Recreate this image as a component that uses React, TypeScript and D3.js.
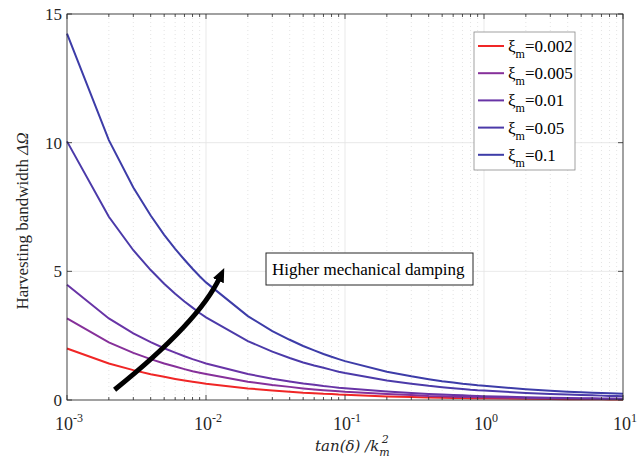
import React from "react";
import * as d3 from "d3";

const xValues = [
  0.001, 0.002, 0.003, 0.004, 0.005, 0.006, 0.007, 0.008, 0.009,
  0.01, 0.02, 0.03, 0.04, 0.05, 0.06, 0.07, 0.08, 0.09,
  0.1, 0.2, 0.3, 0.4, 0.5, 0.6, 0.7, 0.8, 0.9,
  1, 2, 3, 4, 5, 6, 7, 8, 9, 10,
];

const xi0002 = [
  2.0, 1.42, 1.16, 1.0, 0.9, 0.82, 0.76, 0.71, 0.67,
  0.63, 0.45, 0.37, 0.32, 0.28, 0.26, 0.24, 0.23, 0.21,
  0.2, 0.14, 0.12, 0.1, 0.09, 0.08, 0.08, 0.07, 0.07,
  0.07, 0.05, 0.04, 0.03, 0.03, 0.03, 0.03, 0.02, 0.02, 0.02,
];
const xi0005 = [
  3.17, 2.24, 1.83, 1.59, 1.42, 1.3, 1.2, 1.12, 1.06,
  1.01, 0.71, 0.58, 0.51, 0.45, 0.41, 0.38, 0.36, 0.34,
  0.32, 0.23, 0.19, 0.16, 0.15, 0.13, 0.12, 0.12, 0.11,
  0.11, 0.08, 0.06, 0.06, 0.05, 0.05, 0.04, 0.04, 0.04, 0.04,
];
const xi001 = [
  4.48, 3.17, 2.59, 2.25, 2.01, 1.84, 1.7, 1.59, 1.5,
  1.42, 1.01, 0.83, 0.72, 0.64, 0.59, 0.54, 0.51, 0.48,
  0.46, 0.33, 0.27, 0.23, 0.21, 0.19, 0.18, 0.17, 0.16,
  0.15, 0.11, 0.09, 0.08, 0.07, 0.07, 0.06, 0.06, 0.06, 0.05,
];
const xi005 = [
  10.05, 7.12, 5.82, 5.05, 4.52, 4.13, 3.83, 3.59, 3.38,
  3.21, 2.29, 1.88, 1.63, 1.46, 1.34, 1.25, 1.17, 1.1,
  1.05, 0.76, 0.63, 0.55, 0.5, 0.46, 0.43, 0.4, 0.38,
  0.37, 0.27, 0.23, 0.21, 0.19, 0.18, 0.17, 0.16, 0.16, 0.15,
];
const xi01 = [
  14.24, 10.1, 8.26, 7.17, 6.42, 5.87, 5.45, 5.1, 4.81,
  4.57, 3.26, 2.68, 2.34, 2.1, 1.93, 1.79, 1.68, 1.59,
  1.51, 1.1, 0.92, 0.81, 0.73, 0.68, 0.63, 0.6, 0.57,
  0.55, 0.42, 0.36, 0.32, 0.3, 0.28, 0.27, 0.26, 0.25, 0.24,
];

const seriesLabels = ["0.002", "0.005", "0.01", "0.05", "0.1"];
const seriesValues = [xi0002, xi0005, xi001, xi005, xi01];
const seriesColors = ["#f02626", "#86309a", "#6834a6", "#4b3aa9", "#3d3ca8"];

const xTickExps = [-3, -2, -1, 0, 1];
const yTicks = [0, 5, 10, 15];

const W = 643;
const H = 466;
const L = 67, R = 623, T = 14, B = 400;
const FONT = "'Liberation Serif', 'Times New Roman', serif";

export default function App() {
  const x = d3.scaleLog().domain([1e-3, 10]).range([L, R]);
  const y = d3.scaleLinear().domain([0, 15]).range([B, T]);
  const line = d3
    .line<number>()
    .x((_, i) => x(xValues[i]))
    .y((d) => y(d));

  const minor: number[] = [];
  for (let e = -3; e < 1; e++) {
    for (let k = 2; k <= 9; k++) minor.push(k * Math.pow(10, e));
  }
  const axisColor = "#262626";
  const gridColor = "#e3e3e3";

  const arrowStart = [x(0.0022), y(0.4)];
  const arrowEnd = [220, 277];
  const ctrl = [199, 322];

  return (
    <svg
      width={W}
      height={H}
      style={{ position: "absolute", left: 0, top: 0, background: "#fff" }}
    >
      <defs>
        <marker
          id="ah"
          markerUnits="userSpaceOnUse"
          markerWidth="16"
          markerHeight="16"
          refX="4"
          refY="6"
          orient="auto"
        >
          <path d="M0,0 L14,6 L0,12 Z" fill="#000" />
        </marker>
      </defs>
      <rect x={0} y={0} width={W} height={H} fill="#fff" />
      {/* grid */}
      {minor.map((m, i) => (
        <line
          key={"mg" + i}
          x1={x(m)}
          x2={x(m)}
          y1={T}
          y2={B}
          stroke="#d8d8d8"
          strokeWidth={0.7}
          strokeDasharray="1,3"
        />
      ))}
      {xTickExps.map((e) => (
        <line
          key={"xg" + e}
          x1={x(Math.pow(10, e))}
          x2={x(Math.pow(10, e))}
          y1={T}
          y2={B}
          stroke={gridColor}
          strokeWidth={0.8}
        />
      ))}
      {yTicks.map((t) => (
        <line
          key={"yg" + t}
          x1={L}
          x2={R}
          y1={y(t)}
          y2={y(t)}
          stroke={gridColor}
          strokeWidth={0.8}
        />
      ))}
      {/* series */}
      {seriesValues.map((vals, i) => (
        <path
          key={"s" + i}
          d={line(vals) || ""}
          fill="none"
          stroke={seriesColors[i]}
          strokeWidth={2}
        />
      ))}
      {/* axes box */}
      <rect x={L} y={T} width={R - L} height={B - T} fill="none" stroke={axisColor} strokeWidth={0.8} />
      {/* x ticks */}
      {xTickExps.map((e) => (
        <g key={"xt" + e}>
          <line x1={x(Math.pow(10, e))} x2={x(Math.pow(10, e))} y1={B} y2={B - 5} stroke={axisColor} strokeWidth={0.8} />
          <line x1={x(Math.pow(10, e))} x2={x(Math.pow(10, e))} y1={T} y2={T + 5} stroke={axisColor} strokeWidth={0.8} />
          <text
            x={x(Math.pow(10, e)) + 2}
            y={430}
            textAnchor="middle"
            fontFamily={FONT}
            fontSize={18}
            fill="#262626"
          >
            10
            <tspan dy={-8} fontSize={12}>
              {e < 0 ? "-" + Math.abs(e) : String(e)}
            </tspan>
          </text>
        </g>
      ))}
      {minor.map((m, i) => (
        <g key={"mt" + i}>
          <line x1={x(m)} x2={x(m)} y1={B} y2={B - 3} stroke={axisColor} strokeWidth={0.8} />
          <line x1={x(m)} x2={x(m)} y1={T} y2={T + 3} stroke={axisColor} strokeWidth={0.8} />
        </g>
      ))}
      {/* y ticks */}
      {yTicks.map((t) => (
        <g key={"yt" + t}>
          <line x1={L} x2={L + 5} y1={y(t)} y2={y(t)} stroke={axisColor} strokeWidth={0.8} />
          <line x1={R} x2={R - 5} y1={y(t)} y2={y(t)} stroke={axisColor} strokeWidth={0.8} />
          <text
            x={L - 5}
            y={y(t) + 6}
            textAnchor="end"
            fontFamily={FONT}
            fontSize={17}
            fill="#262626"
          >
            {t}
          </text>
        </g>
      ))}
      {/* axis labels */}
      <text
        transform={`translate(28,${(T + B) / 2 + 14}) rotate(-90)`}
        textAnchor="middle"
        fontFamily={FONT}
        fontSize={17}
        fill="#262626"
      >
        Harvesting bandwidth <tspan fontStyle="italic">ΔΩ</tspan>
      </text>
      <text
        x={315}
        y={451}
        fontFamily="'DejaVu Serif', serif"
        fontStyle="italic"
        fontSize={15}
        fill="#262626"
      >
        tan(δ) /k
        <tspan dy={5} fontSize={11}>m</tspan>
        <tspan dx={-8} dy={-13} fontSize={11}>2</tspan>
      </text>
      {/* legend */}
      <rect x={474} y={32} width={101} height={138} fill="#fff" stroke="#8a8a8a" strokeWidth={0.8} />
      {seriesLabels.map((lab, i) => {
        const ly = 46 + i * 27.2;
        return (
          <g key={"lg" + i}>
            <line x1={478} x2={504} y1={ly} y2={ly} stroke={seriesColors[i]} strokeWidth={2} />
            <text x={508} y={ly + 6} fontFamily={FONT} fontSize={17} fill="#000">
              ξ
              <tspan dy={6} fontSize={12}>m</tspan>
              <tspan dy={-6}>={lab}</tspan>
            </text>
          </g>
        );
      })}
      {/* annotation */}
      <rect x={266} y={253} width={207} height={32} fill="#fff" stroke="#262626" strokeWidth={1} />
      <text x={272} y={275} fontFamily={FONT} fontSize={17} fill="#000">
        Higher mechanical damping
      </text>
      <path
        d={`M${arrowStart[0]},${arrowStart[1]} Q${ctrl[0]},${ctrl[1]} ${arrowEnd[0]},${arrowEnd[1]}`}
        fill="none"
        stroke="#000"
        strokeWidth={5}
        markerEnd="url(#ah)"
      />
    </svg>
  );
}
